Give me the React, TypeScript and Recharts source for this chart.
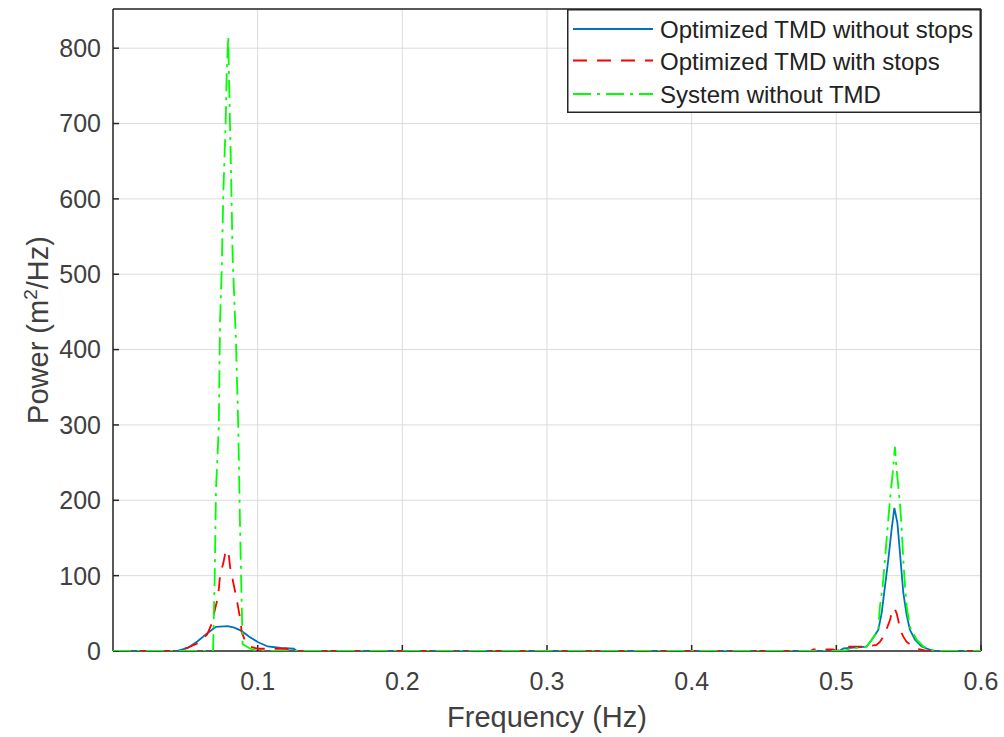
import React from 'react';
import { LineChart, Line, XAxis, YAxis, CartesianGrid, Legend, Label } from 'recharts';

// frequency (Hz) / power (m^2/Hz)
const noStopsFreq = [0, 0.044, 0.0516, 0.0585, 0.0654, 0.0712, 0.0793, 0.0839, 0.0885, 0.0942, 0.1, 0.107, 0.116, 0.125, 0.127, 0.502, 0.505, 0.521, 0.5244, 0.529, 0.5313, 0.5336, 0.5359, 0.5382, 0.5401, 0.5422, 0.544, 0.5463, 0.5486, 0.5509, 0.5544, 0.559, 0.567, 0.6];
const noStopsPower = [0, 0, 4, 13, 24, 32, 33, 31, 27, 19, 12, 6, 4, 3, 0, 0, 3.5, 5.8, 14.6, 27.9, 50, 85.5, 121, 161, 190, 170, 130, 77, 48, 28, 15, 6, 0, 0];

const withStopsFreq = [0, 0.044, 0.0513, 0.0582, 0.0651, 0.0682, 0.0705, 0.0728, 0.074, 0.0763, 0.0774, 0.0797, 0.0809, 0.0832, 0.0855, 0.0878, 0.089, 0.0912, 0.0947, 0.1, 0.12, 0.122, 0.482, 0.484, 0.4977, 0.5, 0.505, 0.507, 0.519, 0.5278, 0.5301, 0.5324, 0.5353, 0.5371, 0.5382, 0.5401, 0.5417, 0.5428, 0.544, 0.5463, 0.5486, 0.5532, 0.5578, 0.5625, 0.6];
const withStopsPower = [0, 0, 4, 10, 22, 36, 55, 74, 101, 117, 128, 134, 112, 90, 69, 44, 25, 14, 6, 3, 3, 0, 0, 2, 2, 0, 3, 5.8, 5.8, 8, 12, 19, 32, 41, 50, 57, 50, 41, 28, 19, 12, 6, 2, 0, 0];

const noTmdFreq = [0, 0.0692, 0.0698, 0.0703, 0.0712, 0.0731, 0.074, 0.0751, 0.0763, 0.0779, 0.0786, 0.0797, 0.0802, 0.0813, 0.0827, 0.085, 0.0866, 0.0878, 0.089, 0.0896, 0.095, 0.1, 0.505, 0.51, 0.521, 0.5244, 0.529, 0.5301, 0.532, 0.5336, 0.5353, 0.5371, 0.5394, 0.5405, 0.5417, 0.544, 0.5452, 0.5463, 0.5475, 0.5486, 0.5509, 0.5555, 0.5601, 0.567, 0.57, 0.6];
const noTmdPower = [0, 0, 58, 96, 215, 296, 437, 502, 610, 702, 767, 816, 757, 664, 524, 410, 296, 166, 58, 9, 3, 0, 0, 3, 6, 15, 28, 59, 85, 121, 161, 201, 245, 271, 240, 196, 161, 121, 85, 59, 32, 15, 6, 1, 0, 0];

const xTicks = [0.1, 0.2, 0.3, 0.4, 0.5, 0.6];
const yTicks = [0, 100, 200, 300, 400, 500, 600, 700, 800];
const yMax = 852;

const toPoints = (freq: number[], power: number[]) => freq.map((f, i) => ({ f, p: power[i] }));

const FONT = '"Liberation Sans", Arial, Helvetica, sans-serif';
const AXIS = '#262626';
const TEXT = '#404040';

const series = [
  { name: 'Optimized TMD without stops', color: '#0072BD', dash: undefined, data: toPoints(noStopsFreq, noStopsPower) },
  { name: 'Optimized TMD with stops', color: '#FF0000', dash: '14 10', data: toPoints(withStopsFreq, withStopsPower) },
  { name: 'System without TMD', color: '#00FF00', dash: '18 6 3 6', data: toPoints(noTmdFreq, noTmdPower) },
];

const tickStyle = { fontSize: 25, fill: TEXT, fontFamily: FONT };

const BoxLegend = () => (
  <svg width={414} height={104} style={{ display: 'block' }}>
    <rect x={0.75} y={0.75} width={412.5} height={102.5} fill="#fff" stroke={AXIS} strokeWidth={1.5} />
    {series.map((s, i) => {
      const y = [20, 51.5, 85][i];
      return (
        <g key={s.name}>
          <line x1={6} x2={86} y1={y} y2={y} stroke={s.color} strokeWidth={1.8} strokeDasharray={s.dash} />
          <text x={93} y={y + 9} fontSize={24} fontFamily={FONT} fill="#222">{s.name}</text>
        </g>
      );
    })}
  </svg>
);

const YTitle = () => (
  <text x={48} y={330} transform="rotate(-90 48 330)" textAnchor="middle" fontSize={29} fontFamily={FONT} fill={TEXT}>
    Power (m<tspan dy={-11} fontSize={19}>2</tspan><tspan dy={11}>/Hz)</tspan>
  </text>
);

export default function App() {
  return (
    <div style={{ position: 'fixed', left: 0, top: 0, width: 1004, height: 737, background: '#fff' }}>
      <LineChart width={1004} height={737} margin={{ top: 8, right: 22, left: 13, bottom: 0 }}>
        <CartesianGrid stroke="#dcdcdc" strokeWidth={1} />
        <XAxis
          dataKey="f"
          type="number"
          domain={[0, 0.6]}
          ticks={xTicks}
          allowDataOverflow
          height={86}
          stroke={AXIS}
          strokeWidth={1.5}
          tickSize={-6}
          tickMargin={27}
          tick={tickStyle}
        >
          <Label value="Frequency (Hz)" position="insideBottom" offset={10} fontSize={29} fontFamily={FONT} fill={TEXT} />
        </XAxis>
        <YAxis
          type="number"
          domain={[0, yMax]}
          ticks={yTicks}
          allowDataOverflow
          width={100}
          stroke={AXIS}
          strokeWidth={1.5}
          tickSize={-6}
          tickMargin={18}
          tick={tickStyle}
          label={<YTitle />}
        />
        <XAxis
          xAxisId="top"
          orientation="top"
          dataKey="f"
          type="number"
          domain={[0, 0.6]}
          ticks={xTicks}
          allowDataOverflow
          height={1}
          stroke={AXIS}
          strokeWidth={1.5}
          tickSize={-6}
          tick={false}
        />
        <YAxis
          yAxisId="right"
          orientation="right"
          type="number"
          domain={[0, yMax]}
          ticks={yTicks}
          allowDataOverflow
          width={1}
          stroke={AXIS}
          strokeWidth={1.5}
          tickSize={-6}
          tick={false}
        />
        {series.map(s => (
          <Line
            key={s.name}
            data={s.data}
            dataKey="p"
            name={s.name}
            type="linear"
            stroke={s.color}
            strokeWidth={1.8}
            strokeDasharray={s.dash}
            dot={false}
            activeDot={false}
            isAnimationActive={false}
            zIndex={600}
          />
        ))}
        <Legend
          layout="horizontal"
          verticalAlign="middle"
          align="center"
          content={<BoxLegend />}
          wrapperStyle={{ left: 567, top: 9, width: 414, height: 104 }}
        />
      </LineChart>
    </div>
  );
}
